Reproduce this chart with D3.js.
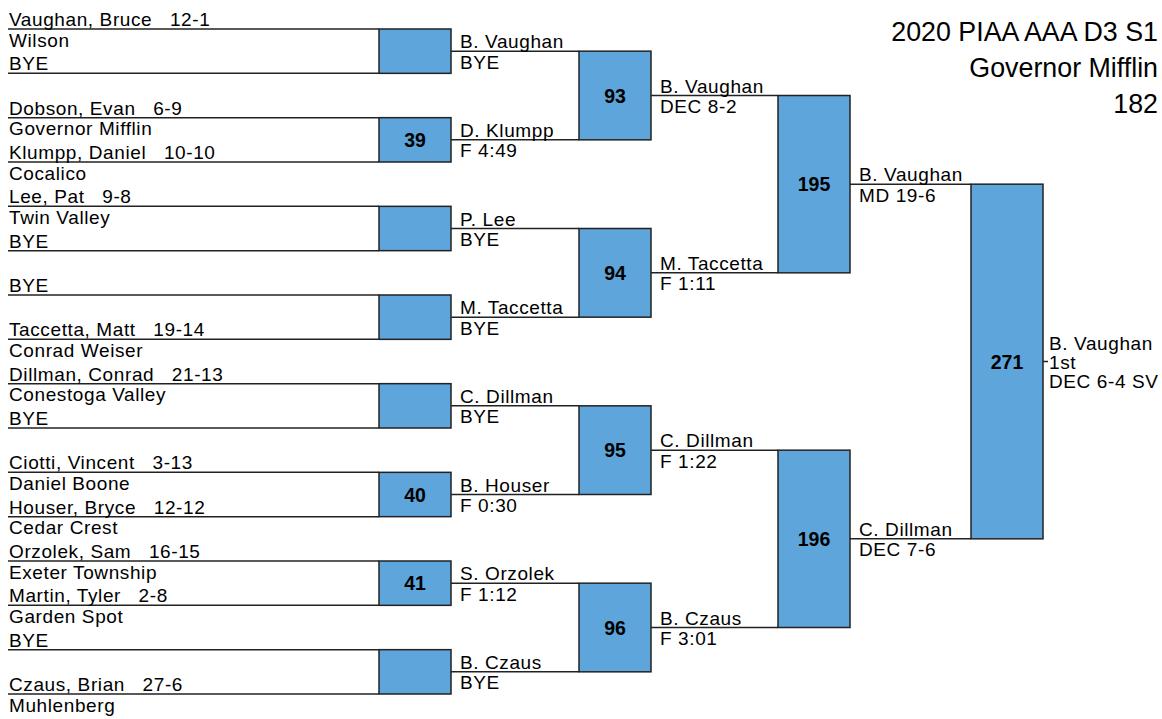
<!DOCTYPE html>
<html><head><meta charset="utf-8">
<script src="https://cdn.jsdelivr.net/npm/d3@7"></script>
<style>
html,body{margin:0;padding:0;background:#fff;}
svg text{font-family:"Liberation Sans",Arial,sans-serif;white-space:pre;fill:#000;}
</style></head>
<body><svg id="c" width="1162" height="719"></svg>
<script>
// ---- data ----
const titleLines = ["2020 PIAA AAA D3 S1", "Governor Mifflin", "182"];
const entrantNames = ["Vaughan, Bruce   12-1","BYE","Dobson, Evan   6-9","Klumpp, Daniel   10-10",
  "Lee, Pat   9-8","BYE","BYE","Taccetta, Matt   19-14",
  "Dillman, Conrad   21-13","BYE","Ciotti, Vincent   3-13","Houser, Bryce   12-12",
  "Orzolek, Sam   16-15","Martin, Tyler   2-8","BYE","Czaus, Brian   27-6"];
const entrantSchools = ["Wilson","","Governor Mifflin","Cocalico",
  "Twin Valley","","","Conrad Weiser",
  "Conestoga Valley","","Daniel Boone","Cedar Crest",
  "Exeter Township","Garden Spot","","Muhlenberg"];
const boutNumbers = [
  ["","39","","","","40","41",""],
  ["93","94","95","96"],
  ["195","196"],
  ["271"]];
const winners = [
  ["B. Vaughan","D. Klumpp","P. Lee","M. Taccetta","C. Dillman","B. Houser","S. Orzolek","B. Czaus"],
  ["B. Vaughan","M. Taccetta","C. Dillman","B. Czaus"],
  ["B. Vaughan","C. Dillman"],
  ["B. Vaughan"]];
const results = [
  ["BYE","F 4:49","BYE","BYE","BYE","F 0:30","F 1:12","BYE"],
  ["DEC 8-2","F 1:11","F 1:22","F 3:01"],
  ["MD 19-6","DEC 7-6"],
  ["DEC 6-4 SV"]];
const placeLabel = "1st";

// ---- layout ----
const svg = d3.select("#c");
const FS = 19, LS = 0.6;
const boxW = 72;
const xBox = d3.scaleOrdinal().domain([0,1,2,3]).range([379,579,778,971]);
const ySlot = d3.scaleLinear().domain([0,15]).range([29,694]);
const lineColor = "#222", fill = "#5DA5DA";

const gLines = svg.append("g"), gBox = svg.append("g"), gText = svg.append("g");

function txt(x,y,s,opt={}){
  return gText.append("text").attr("x",x).attr("y",y).text(s)
    .attr("font-size",opt.fs||FS).attr("letter-spacing",opt.ls!==undefined?opt.ls:LS)
    .attr("font-weight",opt.bold?"bold":null).attr("text-anchor",opt.anchor||"start");
}

let ins = d3.range(16).map(i=>ySlot(i));
let startX = 8;
boutNumbers.forEach((nums, r)=>{
  const bx = xBox(r);
  const outs = [];
  nums.forEach((n,j)=>{
    const y0 = ins[2*j], y1 = ins[2*j+1];
    [y0,y1].forEach(y=>gLines.append("line").attr("x1",startX).attr("x2",bx).attr("y1",y).attr("y2",y)
      .attr("stroke",lineColor).attr("stroke-width",1.5));
    gBox.append("rect").attr("x",bx).attr("y",y0).attr("width",boxW).attr("height",y1-y0)
      .attr("fill",fill).attr("stroke",lineColor).attr("stroke-width",1.5);
    const ym = (y0+y1)/2;
    if(n) txt(bx+boxW/2, ym+7, n, {bold:true, anchor:"middle", ls:0, fs:19.5});
    outs.push(ym);
  });
  if(r===0){
    ins.forEach((y,i)=>{
      txt(9, y-3, entrantNames[i]);
      if(entrantSchools[i]) txt(9, y+17.5, entrantSchools[i]);
    });
  }
  const tx = bx+boxW+9;
  outs.forEach((y,j)=>{
    if(r<3){
      txt(tx, y-3, winners[r][j]);
      txt(tx, y+17.5, results[r][j]);
    } else {
      gLines.append("line").attr("x1",bx+boxW).attr("x2",bx+boxW+5).attr("y1",y).attr("y2",y)
        .attr("stroke",lineColor).attr("stroke-width",1.5);
      txt(tx-3, y-12, winners[r][j]);
      txt(tx-3, y+7, placeLabel);
      txt(tx-3, y+26, results[r][j]);
    }
  });
  ins = outs; startX = bx+boxW;
});

titleLines.forEach((t,i)=>txt(1158, 41+i*36, t, {fs:26.8, anchor:"end", ls:0}));
</script></body></html>
